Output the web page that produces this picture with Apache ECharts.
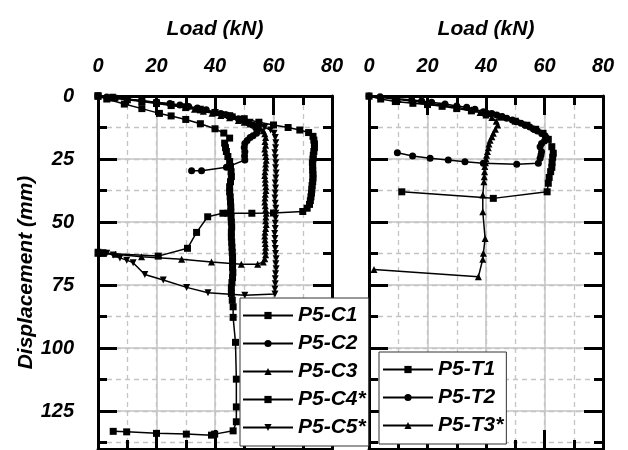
<!DOCTYPE html>
<html>
<head>
<meta charset="utf-8">
<script src="https://cdn.jsdelivr.net/npm/echarts@6/dist/echarts.min.js"></script>
<style>
  html, body { margin: 0; padding: 0; background: #fff; }
  #chart { width: 628px; height: 450px; }
</style>
</head>
<body>
<div id="chart"></div>
<script>
// Load (kN) vs displacement (mm) pairs, one array per specimen
const c1 = [[0,0],[3,1.2],[9,3.2],[15,5],[21,6.9],[25,7.9],[30,9.3],[35,11],[40,13],[43,14.7],[45,16.7],[43.3,18.7],[43.6,20.5],[43.9,22],[44.4,24],[45,26],[45.3,28],[45.5,30],[45.6,32],[45.3,34],[45,36],[45,38],[45.2,40],[45.3,42],[45.4,44],[45.4,46],[45.5,48],[45.6,50],[45.7,52],[45.6,54],[45.6,56],[45.7,58],[45.8,60],[45.9,62],[46,64],[46,66],[46,68],[46.1,70],[46,72],[45.8,74],[45.6,76],[45.6,78.3],[45.9,81],[46.2,83.6],[46.2,87.8],[47,97.7],[47.3,112.3],[47.3,123.3],[47.3,129.2],[46.2,132.8],[39.9,134.1],[38.8,134.5],[30.2,134.1],[20,133.8],[9.8,133.2],[5.2,133]];
const c2 = [[0,0],[3,0.4],[6,0.8],[10,1.3],[15,1.9],[20,2.5],[24.6,3],[28,3.6],[31,4.2],[34,4.8],[37,5.5],[40,6.3],[42,6.9],[44,7.5],[46,8.2],[48,9],[50,9.9],[51.5,10.7],[53,11.6],[54,12.6],[54.5,13.7],[54.2,14.8],[53,15.8],[52,16.5],[51,17.6],[50.2,18.8],[50,20.4],[50.2,22.1],[50.1,23.8],[50.2,25.4],[43.9,28.3],[35.4,29.6],[32,29.6]];
const c3 = [[0,0],[5,0.6],[10,1.3],[15,2],[20,2.8],[25,3.6],[30,4.6],[33,5.3],[36,6],[39,6.8],[42,7.7],[45,8.6],[48,9.7],[50,10.4],[52,11.1],[54,11.9],[55.5,12.7],[56.5,13.8],[57,15],[57.3,16.5],[57.1,18],[57.3,19.5],[57,21],[57.2,22.5],[57.4,24],[57.5,25.5],[57.3,27],[57.3,28.5],[57.1,30],[57,31.5],[57.2,33],[57.2,34.5],[57.4,36],[57.4,37.5],[57.2,39],[57.1,40.5],[57,42],[57.2,43.5],[57.3,45],[57.5,46.5],[57.4,48],[57.3,49.5],[57.5,51],[57.3,52.5],[57.1,54],[57,55.5],[57.1,57],[57.2,58.5],[57.3,60],[57.2,61.5],[57.3,63],[57,64.5],[56.5,65.8],[54.6,66.7],[49,66.7],[38.8,65.8],[28.6,64.7],[14.9,63.8],[6,62.8],[1.7,62.3],[0,62.3]];
const c4 = [[0,0],[5,0.8],[10,1.5],[15,2.2],[20,3],[25,3.8],[30,4.6],[35,5.5],[40,6.6],[45,7.8],[50,9],[55,10.4],[60,11.5],[65,12.5],[69,13.5],[72,14.5],[73.5,16],[73.8,17.5],[74,19],[74,20.5],[73.8,22],[73.6,23.5],[73.5,25],[73.3,26.5],[73.4,28],[73.4,29.5],[73.5,31],[73.5,32.5],[73.4,34],[73.2,35.5],[73.1,37],[73,38.5],[72.8,40],[72.6,41.5],[72.3,43],[71.5,44.5],[70,45.8],[60,46.4],[52.6,46.5],[44.4,46.5],[42.7,46.5],[37.5,47.9],[33.7,54.1],[30.6,60.4],[20.6,63.5],[1.8,62.4],[0,62.3]];
const c5 = [[0,0],[5,0.5],[10,1.2],[15,1.9],[20,2.6],[25,3.4],[30,4.3],[35,5.3],[40,6.5],[43,7.4],[46,8.3],[49,9.3],[52,10.4],[55,11.5],[57,12.4],[59,13.5],[60.2,14.8],[60.6,16.5],[60.8,18.5],[60.7,20.5],[60.5,22.5],[60.6,24.5],[60.8,26.5],[60.7,28.5],[60.9,30.5],[60.8,32.5],[60.6,34.5],[60.7,36.5],[60.6,38.5],[60.5,40.5],[60.6,42.5],[60.8,44.5],[60.8,46.5],[60.7,48.5],[60.6,50.5],[60.6,52.5],[60.4,54.5],[60.5,56.5],[60.4,58.5],[60.6,60.5],[60.7,62.5],[60.9,64.5],[60.8,66.5],[60.9,68.5],[60.7,70.5],[60.6,72.5],[60.6,74.5],[60.5,76.5],[60.5,78.5],[50.2,79],[37.6,78],[30.3,75.9],[22.3,73],[16,70.8],[12,66.1],[9.8,65.1],[7.5,64.2],[5.2,63.1],[3,62.4],[1.7,62.2],[0,62]];

const t1 = [[0,0],[4,1.2],[9,2.2],[15,2.9],[20,3.4],[25,4.1],[30,5],[35,5.9],[40,7],[45,8.4],[50,10],[54,11.6],[57,13.2],[59.5,14.8],[61.3,17.2],[62.5,20.1],[63,22.7],[62.8,24.3],[62.6,26.3],[62.5,28.3],[62.1,30],[61.6,32.3],[61.3,34.6],[60.9,38],[42.5,40.6],[11.2,38]];
const t2 = [[0,0],[3.8,0.3],[9,1],[14.6,1.6],[18,2],[21.4,2.5],[26,3.2],[30,4],[33.4,4.5],[36.2,5.3],[39.1,6.2],[42,6.9],[43.7,7.5],[45.5,8.1],[47.1,8.8],[49,9.5],[50.5,10.2],[52,10.8],[53.3,11.5],[55,12.3],[56.2,13.1],[57.6,13.9],[59,14.8],[60.2,15.8],[60.8,16.8],[60,17.8],[59,18.8],[58.5,20.1],[59,22.1],[58.8,23.4],[58.5,24.7],[57.9,26.7],[50.5,27.1],[39.1,26.7],[32.8,26.1],[27.1,25.4],[20.9,24.7],[14.9,23.8],[9.7,22.5]];
const t3 = [[0,0],[10,1.4],[20,2.8],[30,4.5],[35,5.5],[38,6.5],[40,7.5],[42,8.5],[43.5,10],[44,11.5],[43.2,13.2],[42.5,14.8],[42,16.2],[41.4,17.5],[41,19],[40.8,20.5],[40.5,22],[40.2,23.5],[40,25],[39.8,26.5],[39.6,28],[39.5,30],[39.4,32],[39.3,34],[38.9,39.3],[38.9,45.9],[39.7,56.5],[39.1,62.4],[38.9,64.7],[37.4,71.7],[1.7,68.8]];

const loadTicks = { min: 0, max: 80, major: 20, minor: 10 };
const dispTicks = { min: 0, max: 140, major: 25, minor: 12.5 };

const mainFont = "'Liberation Sans', Arial, sans-serif";
const gridColor = '#c4c4c4';
const downTriangle = 'path://M0,0 L10,0 L5,9 Z';

const panels = [
  { left: 98, series: [['P5-C1', c1, 'rect'], ['P5-C2', c2, 'circle'], ['P5-C3', c3, 'triangle'], ['P5-C4*', c4, 'rect'], ['P5-C5*', c5, downTriangle]], yLabels: true },
  { left: 369, series: [['P5-T1', t1, 'rect'], ['P5-T2', t2, 'circle'], ['P5-T3*', t3, 'triangle']], yLabels: false }
];

const labelFont = { fontFamily: mainFont, fontWeight: 'bold', fontStyle: 'italic', fontSize: 20, color: '#000' };
const titleFont = { fontFamily: mainFont, fontWeight: 'bold', fontStyle: 'italic', fontSize: 21, color: '#000' };

const grids = [], xAxes = [], yAxes = [], series = [];

panels.forEach((p, g) => {
  grids.push({ left: p.left, top: 96, width: 234, height: 353, containLabel: false });

  const frameLine = { show: true, onZero: false, lineStyle: { color: '#000', width: 3 } };
  const noLine = { show: false, onZero: false };
  const tick = (len) => ({ show: true, inside: true, length: len, lineStyle: { color: '#000', width: 3 } });

  // x axes: minor grid/ticks, major labels/grid/ticks (top), plus mirrored ticks at the bottom
  const xBase = { type: 'value', gridIndex: g, min: loadTicks.min, max: loadTicks.max };
  xAxes.push(Object.assign({}, xBase, {
    position: 'top', interval: loadTicks.minor, axisLine: noLine, axisTick: tick(9),
    axisLabel: { show: false },
    splitLine: { show: true, lineStyle: { color: gridColor, width: 1.3, type: [5, 4] } }
  }));
  xAxes.push(Object.assign({}, xBase, {
    position: 'top', interval: loadTicks.major, axisLine: frameLine, axisTick: tick(19),
    name: 'Load (kN)', nameLocation: 'middle', nameGap: 56, nameTextStyle: titleFont,
    axisLabel: Object.assign({ show: true, margin: 20 }, labelFont),
    splitLine: { show: true, lineStyle: { color: gridColor, width: 1.5 } }
  }));
  xAxes.push(Object.assign({}, xBase, {
    position: 'bottom', interval: loadTicks.minor, axisLine: noLine, axisTick: tick(9),
    axisLabel: { show: false }, splitLine: { show: false }
  }));
  xAxes.push(Object.assign({}, xBase, {
    position: 'bottom', interval: loadTicks.major, axisLine: frameLine, axisTick: tick(19),
    axisLabel: { show: false }, splitLine: { show: false }
  }));

  // y axes (displacement grows downward)
  const yBase = { type: 'value', gridIndex: g, inverse: true, min: dispTicks.min, max: dispTicks.max };
  yAxes.push(Object.assign({}, yBase, {
    position: 'left', interval: dispTicks.minor, axisLine: noLine, axisTick: tick(9),
    axisLabel: { show: false },
    splitLine: { show: true, lineStyle: { color: gridColor, width: 1.3, type: [5, 4] } }
  }));
  const yMajor = Object.assign({}, yBase, {
    position: 'left', interval: dispTicks.major, axisLine: frameLine, axisTick: tick(19),
    axisLabel: Object.assign({ show: p.yLabels, showMaxLabel: false, margin: 24 }, labelFont),
    splitLine: { show: true, lineStyle: { color: gridColor, width: 1.5 } }
  });
  if (p.yLabels) {
    yMajor.name = 'Displacement (mm)';
    yMajor.nameLocation = 'middle';
    yMajor.nameGap = 61;
    yMajor.nameTextStyle = titleFont;
  }
  yAxes.push(yMajor);
  yAxes.push(Object.assign({}, yBase, {
    position: 'right', interval: dispTicks.minor, axisLine: noLine, axisTick: tick(9),
    axisLabel: { show: false }, splitLine: { show: false }
  }));
  yAxes.push(Object.assign({}, yBase, {
    position: 'right', interval: dispTicks.major, axisLine: frameLine, axisTick: tick(19),
    axisLabel: { show: false }, splitLine: { show: false }
  }));

  p.series.forEach(([name, data, symbol]) => {
    series.push({
      name, type: 'line', data,
      xAxisIndex: g * 4 + 1, yAxisIndex: g * 4 + 1,
      symbol, symbolSize: 7,
      showAllSymbol: true,
      lineStyle: { color: '#000', width: 1.5 },
      itemStyle: { color: '#000' },
      emphasis: { disabled: true },
      animation: false, z: 3
    });
  });
});

const legendBase = {
  orient: 'vertical', itemWidth: 50, itemHeight: 9, itemGap: 7,
  backgroundColor: '#fff', borderColor: '#333', borderWidth: 1, borderRadius: 0,
  textStyle: titleFont, selectedMode: false, z: 10
};

const chart = echarts.init(document.getElementById('chart'), null, { renderer: 'canvas' });
chart.setOption({
  animation: false,
  backgroundColor: '#fff',
  grid: grids,
  xAxis: xAxes,
  yAxis: yAxes,
  legend: [
    Object.assign({}, legendBase, { left: 240, top: 298, padding: [7, 3, 8, 2], data: panels[0].series.map(s => s[0]) }),
    Object.assign({}, legendBase, { left: 379, top: 352, padding: [7, 3, 8, 3], data: panels[1].series.map(s => s[0]) })
  ],
  series
});
</script>
</body>
</html>
